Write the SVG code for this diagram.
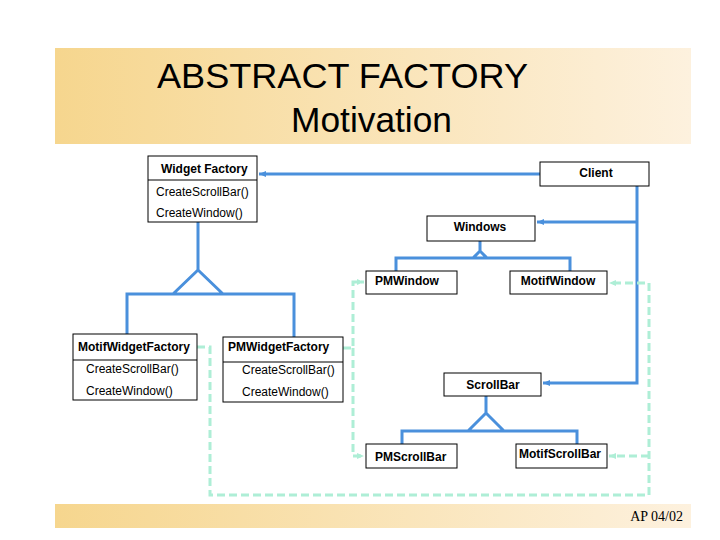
<svg xmlns="http://www.w3.org/2000/svg" width="720" height="540" viewBox="0 0 720 540">
<defs>
  <linearGradient id="band" x1="0" y1="0" x2="1" y2="0">
    <stop offset="0" stop-color="#f6d68e"/>
    <stop offset="1" stop-color="#fdf1de"/>
  </linearGradient>
  <marker id="ab" markerUnits="userSpaceOnUse" markerWidth="8" markerHeight="8" refX="7" refY="4" orient="auto">
    <path d="M0,1 L7,4 L0,7 z" fill="#4a90dc"/>
  </marker>
  <marker id="ag" markerUnits="userSpaceOnUse" markerWidth="8" markerHeight="8" refX="7" refY="4" orient="auto">
    <path d="M0,1 L7,4 L0,7 z" fill="#aeeed6"/>
  </marker>
  <style>
    .box{fill:#fff;stroke:#000;stroke-width:1}
    .div{stroke:#000;stroke-width:1}
    .b{font-family:"Liberation Sans",Arial,sans-serif;font-size:12px;font-weight:bold;fill:#000}
    .r{font-family:"Liberation Sans",Arial,sans-serif;font-size:12px;fill:#000}
    .t{font-family:"Liberation Sans",Arial,sans-serif;font-size:35px;fill:#000}
    .blue{fill:none;stroke:#4a90dc;stroke-width:3}
    .grn{fill:none;stroke:#aeeed6;stroke-width:3;stroke-dasharray:8 4}
  </style>
</defs>
<rect x="55" y="48" width="636" height="96" fill="url(#band)"/>
<rect x="55" y="504" width="636" height="24" fill="url(#band)"/>
<text class="t" x="157" y="88" textLength="371" lengthAdjust="spacingAndGlyphs">ABSTRACT FACTORY</text>
<text class="t" x="291" y="132" textLength="161" lengthAdjust="spacingAndGlyphs">Motivation</text>
<text x="683" y="521" text-anchor="end" font-family="Liberation Serif,serif" font-size="14">AP 04/02</text>

<g id="connectors">
  <path class="blue" d="M540,174 L259,174" marker-end="url(#ab)"/>
  <path class="blue" d="M637,186 L637,383 L543,383" marker-end="url(#ab)"/>
  <path class="blue" d="M637,222 L537,222" marker-end="url(#ab)"/>
  <path class="blue" d="M198,222 L198,270 M173,294 L198,270 L223,294 M127,334 L127,294 L294,294 L294,337"/>
  <path class="blue" d="M480,241 L480,251 M473,258 L480,251 L487,258 M396,271 L396,258 L570,258 L570,271"/>
  <path class="blue" d="M486,396 L486,413 M468,431 L486,413 L504,431 M402,444 L402,431 L577,431 L577,444"/>
  <path class="grn" d="M197,347 L210,347 L210,495 L649,495 L649,283 L609,283" marker-end="url(#ag)"/>
  <path class="grn" d="M649,456 L609,456" marker-end="url(#ag)"/>
  <path class="grn" d="M343,348 L353,348 L353,282 L364,282" marker-end="url(#ag)"/>
  <path class="grn" d="M353,348 L353,456 L364,456" marker-end="url(#ag)"/>
</g>

<g id="widget-factory">
  <rect class="box" x="148" y="156" width="109" height="66"/>
  <line class="div" x1="148" y1="180" x2="257" y2="180"/>
  <text class="b" x="161" y="173">Widget Factory</text>
  <text class="r" x="156" y="196">CreateScrollBar()</text>
  <text class="r" x="156" y="217">CreateWindow()</text>
</g>
<g id="client">
  <rect class="box" x="540" y="162" width="109" height="24"/>
  <text class="b" x="596" y="177" text-anchor="middle">Client</text>
</g>
<g id="windows">
  <rect class="box" x="427" y="216" width="108" height="25"/>
  <text class="b" x="480" y="231" text-anchor="middle">Windows</text>
</g>
<g id="pmwindow">
  <rect class="box" x="366" y="271" width="91" height="23"/>
  <text class="b" x="375" y="285">PMWindow</text>
</g>
<g id="motifwindow">
  <rect class="box" x="510" y="271" width="97" height="23"/>
  <text class="b" x="558" y="285" text-anchor="middle">MotifWindow</text>
</g>
<g id="motif-widget-factory">
  <rect class="box" x="73" y="334" width="124" height="66"/>
  <line class="div" x1="73" y1="360" x2="197" y2="360"/>
  <text class="b" x="78" y="351">MotifWidgetFactory</text>
  <text class="r" x="86" y="373">CreateScrollBar()</text>
  <text class="r" x="86" y="395">CreateWindow()</text>
</g>
<g id="pm-widget-factory">
  <rect class="box" x="223" y="337" width="120" height="65"/>
  <line class="div" x1="223" y1="362" x2="343" y2="362"/>
  <text class="b" x="228" y="351">PMWidgetFactory</text>
  <text class="r" x="242" y="374">CreateScrollBar()</text>
  <text class="r" x="242" y="396">CreateWindow()</text>
</g>
<g id="scrollbar">
  <rect class="box" x="444" y="373" width="97" height="23"/>
  <text class="b" x="493" y="389" text-anchor="middle">ScrollBar</text>
</g>
<g id="pmscrollbar">
  <rect class="box" x="366" y="444" width="91" height="24"/>
  <text class="b" x="375" y="461">PMScrollBar</text>
</g>
<g id="motifscrollbar">
  <rect class="box" x="516" y="444" width="91" height="24"/>
  <text class="b" x="519" y="458">MotifScrollBar</text>
</g>
</svg>
